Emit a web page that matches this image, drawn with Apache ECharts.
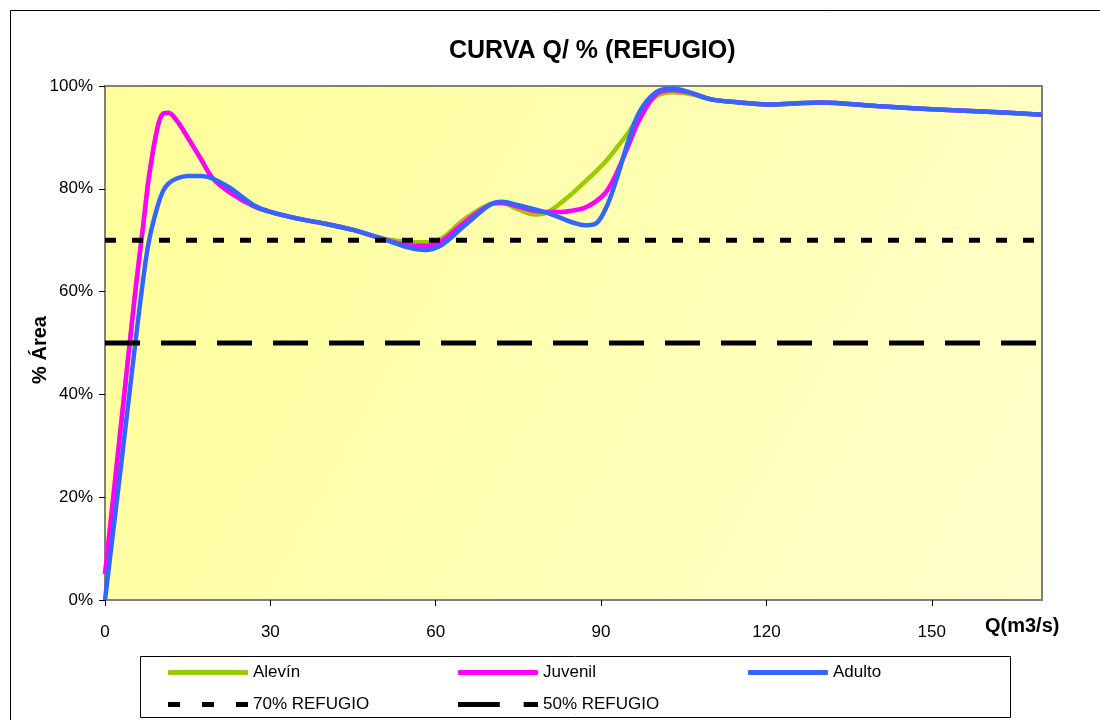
<!DOCTYPE html>
<html>
<head>
<meta charset="utf-8">
<title>CURVA Q/ % (REFUGIO)</title>
<script src="https://cdn.jsdelivr.net/npm/echarts@6.0.0/dist/echarts.min.js"></script>
<style>
  html, body { margin: 0; padding: 0; background: #fff; }
  #chart { width: 1100px; height: 720px; }
</style>
</head>
<body>
<div id="chart"></div>
<script>
// caudal Q (m3/s) y % de área de refugio
var caudal = [0, 3, 5.5, 7, 8, 9.5, 10.5, 11.5, 13, 15, 17.5, 19.5, 22.5, 27, 30, 35, 40, 45, 50,
  55, 58, 61, 65, 70, 72, 75, 78, 80, 83, 85, 87, 89, 91, 93, 95, 97, 100, 103, 106,
  110, 115, 120, 125, 130, 140, 150, 160, 170]

var alevin = [5, 35, 60, 73.5, 82.5, 91.8, 94.6, 94.8, 93.3, 90, 85.6, 82.1, 79.4, 76.6, 75.5, 74.2, 73.2, 72.0, 70.4,
  69.7, 69.6, 70.3, 73.9, 77.0, 77.2, 76.0, 75.0, 75.3, 77.5, 79.3, 81.3, 83.3, 85.5, 88.2, 91, 94.3, 98.0, 98.8, 98.5,
  97.4, 96.8, 96.4, 96.6, 96.8, 96.1, 95.5, 95.0, 94.4]

var juvenil = [5, 35, 60, 73.5, 82.5, 91.8, 94.6, 94.8, 93.3, 90, 85.6, 82.1, 79.4, 76.6, 75.5, 74.2, 73.2, 72.0, 70.4,
  69.0, 68.9, 69.8, 73.3, 77.0, 77.3, 76.5, 75.7, 75.5, 75.5, 75.8, 76.3, 77.5, 79.5, 83.5, 88.5, 93.5, 98.4, 99.2, 98.7,
  97.4, 96.8, 96.4, 96.6, 96.8, 96.1, 95.5, 95.0, 94.4]

var adulto = [0, 27, 50, 63, 70, 76.5, 79.5, 81, 82, 82.5, 82.5, 82, 80.3, 76.8, 75.5, 74.2, 73.2, 72.0, 70.4,
  68.6, 68.1, 69.0, 72.6, 77.0, 77.5, 76.8, 76.0, 75.4, 74.2, 73.4, 72.9, 73.2, 76.5, 82.5, 89.5, 95, 98.8, 99.5, 98.8,
  97.4, 96.8, 96.4, 96.6, 96.8, 96.1, 95.5, 95.0, 94.4]

// umbrales de refugio
var refQ = [0, 170]
var refugio70 = [70, 70]
var refugio50 = [50, 50]

var font = 'Liberation Sans, Arial, sans-serif'

function pairs(xs, ys) {
  return xs.map(function (x, i) { return [x, ys[i]] })
}

function curve(name, ys, color) {
  return {
    name: name,
    type: 'line',
    data: pairs(caudal, ys),
    smooth: 0.35,
    symbol: 'none',
    lineStyle: { color: color, width: 4.5 },
    itemStyle: { color: color }
  }
}

function refLine(name, ys, dash) {
  return {
    name: name,
    type: 'line',
    data: pairs(refQ, ys),
    symbol: 'none',
    z: 5,
    lineStyle: { color: '#000', width: 5, type: dash, cap: 'butt' },
    itemStyle: { color: '#000' }
  }
}

function legendItem(name, left, top, icon) {
  return {
    data: [{ name: name, icon: icon }],
    left: left,
    top: top,
    padding: 0,
    itemWidth: 80,
    itemHeight: 5,
    symbolKeepAspect: false,
    selectedMode: false,
    textStyle: { fontFamily: font, fontSize: 17, color: '#000' }
  }
}

var dots = 'path://M0,0H11V5H0Z M31,0H42V5H31Z M62,0H73V5H62Z'
var dashes = 'path://M0,0H35V5H0Z M55,0H67V5H55Z'

var chart = echarts.init(document.getElementById('chart'))

chart.setOption({
  animation: false,
  backgroundColor: '#fff',
  title: {
    text: 'CURVA Q/ % (REFUGIO)',
    left: 444,
    top: 34,
    textStyle: { fontFamily: font, fontSize: 25, fontWeight: 'bold', color: '#000' }
  },
  grid: {
    left: 105,
    top: 86,
    right: 58,
    bottom: 120,
    show: true,
    borderColor: '#808080',
    borderWidth: 2,
    backgroundColor: {
      type: 'linear', x: 0, y: 0, x2: 1, y2: 1,
      colorStops: [
        { offset: 0, color: '#ffff99' },
        { offset: 1, color: '#ffffcc' }
      ]
    }
  },
  legend: [
    legendItem('Alevín', 168, 664, 'roundRect'),
    legendItem('Juvenil', 458, 664, 'roundRect'),
    legendItem('Adulto', 748, 664, 'roundRect'),
    legendItem('70% REFUGIO', 168, 696, dots),
    legendItem('50% REFUGIO', 458, 696, dashes)
  ],
  xAxis: {
    type: 'value',
    min: 0,
    max: 170,
    interval: 30,
    axisLine: { show: true, lineStyle: { color: '#808080', width: 2 } },
    axisTick: { show: true, length: 6, lineStyle: { color: '#000' } },
    axisLabel: { showMaxLabel: false, margin: 24, fontFamily: font, fontSize: 17, color: '#000' },
    splitLine: { show: false }
  },
  yAxis: {
    type: 'value',
    min: 0,
    max: 100,
    interval: 20,
    axisLine: { show: true, lineStyle: { color: '#808080', width: 2 } },
    axisTick: { show: true, length: 6, lineStyle: { color: '#000' } },
    axisLabel: { formatter: '{value}%', margin: 12, fontFamily: font, fontSize: 17, color: '#000' },
    splitLine: { show: false }
  },
  graphic: [
    {
      type: 'rect',
      shape: { x: 10.5, y: 10.5, width: 1200, height: 800 },
      style: { fill: 'none', stroke: '#000', lineWidth: 1 },
      silent: true
    },
    {
      type: 'rect',
      shape: { x: 140.5, y: 656.5, width: 870, height: 61 },
      style: { fill: '#fff', stroke: '#000', lineWidth: 1 },
      z: -1,
      silent: true
    },
    {
      type: 'text',
      x: 40,
      y: 350,
      rotation: Math.PI / 2,
      style: {
        text: '% Área',
        font: 'bold 20px ' + font,
        fill: '#000',
        align: 'center',
        verticalAlign: 'middle'
      }
    },
    {
      type: 'text',
      left: 985,
      top: 616,
      style: { text: 'Q(m3/s)', font: 'bold 20px ' + font, fill: '#000' }
    }
  ],
  series: [
    curve('Alevín', alevin, '#99cc00'),
    curve('Juvenil', juvenil, '#ff00ff'),
    curve('Adulto', adulto, '#3366ff'),
    refLine('70% REFUGIO', refugio70, [11, 16]),
    refLine('50% REFUGIO', refugio50, [35, 21])
  ]
})
</script>
</body>
</html>
